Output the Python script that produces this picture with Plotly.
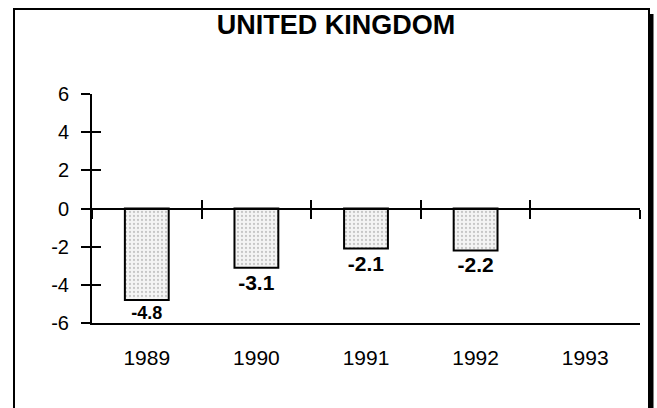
import plotly.graph_objects as go

years = ["1989", "1990", "1991", "1992", "1993"]
values = [-4.8, -3.1, -2.1, -2.2, None]
labels = ["-4.8", "-3.1", "-2.1", "-2.2", ""]
y_ticks = [-6, -4, -2, 0, 2, 4, 6]
y_tick_text = ["-6", "-4", "-2", "0", "2", "4", "6"]
boundaries = [-0.5, 0.5, 1.5, 2.5, 3.5, 4.5]

W, H = 657, 408
L, R, T, B = 92, 17, 94, 85
pw, ph = W - L - R, H - T - B

def px_x(x):
    return (x - L) / pw

def px_y(y):
    return (H - B - y) / ph

FONT = "Liberation Sans, Arial, sans-serif"

fig = go.Figure()
fig.add_trace(go.Bar(
    x=years, y=values, text=labels, textposition="outside",
    cliponaxis=False, width=0.4,
    marker=dict(color="white", line=dict(color="black", width=2),
                pattern=dict(shape=".", size=4, solidity=0.25,
                             fgcolor="#9a9a9a", bgcolor="#f4f4f4")),
    textfont=dict(family=FONT, size=[18, 21, 21, 21, 21], color="black",
                  weight="bold"),
    showlegend=False, hoverinfo="skip",
))

axis_common = dict(range=[-0.5, 4.5], fixedrange=True)
fig.update_layout(
    width=W, height=H, autosize=False,
    margin=dict(l=L, r=R, t=T, b=B, pad=0),
    paper_bgcolor="white", plot_bgcolor="white",
    title=dict(text="<b>UNITED KINGDOM</b>", x=336 / W, xanchor="center",
               y=1 - 25 / H, yanchor="middle", yref="container",
               font=dict(family=FONT, size=27, color="black")),
    bargap=0.6,
    xaxis=dict(type="category", range=[-0.5, 4.5], showline=True,
               linecolor="black", linewidth=2, ticks="", showgrid=False,
               zeroline=False, tickfont=dict(family=FONT, size=21, color="black"),
               ticklabelstandoff=15),
    xaxis2=dict(overlaying="x", anchor="free", position=0.5, side="bottom",
                showline=True, linecolor="black", linewidth=2,
                tickmode="array", tickvals=boundaries, ticks="outside",
                ticklen=9, tickwidth=2, tickcolor="black",
                showticklabels=False, showgrid=False, zeroline=False,
                **axis_common),
    xaxis3=dict(overlaying="x", anchor="free", position=0.5, side="bottom",
                showline=False, tickmode="array", tickvals=boundaries,
                ticks="inside", ticklen=9, tickwidth=2, tickcolor="black",
                showticklabels=False, showgrid=False, zeroline=False,
                **axis_common),
    yaxis=dict(range=[-6, 6], tickmode="array", tickvals=y_ticks,
               ticktext=y_tick_text,
               ticks="outside", ticklen=9, tickwidth=2, tickcolor="black",
               showline=True, linecolor="black", linewidth=2,
               showgrid=False, zeroline=False, ticklabelstandoff=8,
               tickfont=dict(family=FONT, size=20, color="black")),
    yaxis2=dict(overlaying="y", anchor="x", side="left", range=[-6, 6],
                tickmode="array", tickvals=y_ticks, ticks="inside",
                ticklen=9, tickwidth=2, tickcolor="black",
                showticklabels=False, showline=False, showgrid=False,
                zeroline=False),
    shapes=[
        dict(type="rect", xref="paper", yref="paper",
             x0=px_x(14), x1=px_x(649), y0=px_y(430), y1=px_y(9),
             line=dict(color="black", width=2), layer="below"),
        dict(type="line", xref="paper", yref="paper",
             x0=px_x(651), x1=px_x(651), y0=px_y(430), y1=px_y(14),
             line=dict(color="black", width=5)),
    ],
)
fig.add_trace(go.Scatter(x=[None], y=[None], xaxis="x2", yaxis="y2",
                         showlegend=False, hoverinfo="skip"))
fig.add_trace(go.Scatter(x=[None], y=[None], xaxis="x3", yaxis="y2",
                         showlegend=False, hoverinfo="skip"))

fig.write_html("out.html", config={"displayModeBar": False},
               post_script="document.body.style.margin='0';"
                           "document.body.style.overflow='hidden';")
